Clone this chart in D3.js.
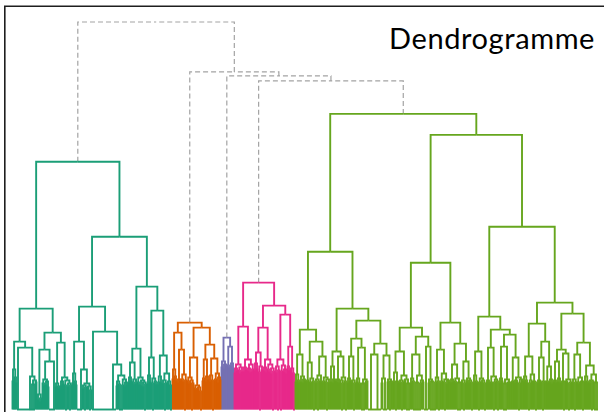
<!DOCTYPE html>
<html>
<head>
<meta charset="utf-8">
<script src="https://cdn.jsdelivr.net/npm/d3@7"></script>
<style>
  html, body { margin: 0; padding: 0; background: #ffffff; }
  svg { display: block; }
</style>
</head>
<body>
<svg id="chart" width="604" height="412"></svg>
<script>
// ---- data -------------------------------------------------------------
const title = "Dendrogramme";

// Colours of the five groups obtained by cutting the tree
const groupColors = ["#1b9e77", "#d95f02", "#7570b3", "#e7298a", "#66a61e"];

// Merges above the cut: "#k" stands for group k, the number after ")" is the merge height
const upperMerges = "(#0,(#1,(#2,(#3,#4)32.9)33.4)33.8)38.8";

// One tree per group. Leaf tokens give the number of tied observations
// (an L or R suffix: the stem of that tie chain sits at its left / right end).
const groupTrees = [
  // group 1
  `(
   ((((1,1)2.8,(1,(1,1)2.6)3.2)4.0,(12L,(2,((2,2)2.5,(1,1)2.7)2.9)3.3)6.2)6.8,
    ((((1,1)0.9,((1,1)0.7,1)1.1)1.5,(((1,(1,1)2.3)2.6,((1,1)2.4,(1,1)2.2)2.8)3.0,6R)4.8)6.0,
     (((1,1)2.2,(1,(1,1)2.0)2.3)2.6,(((1,1)2.3,(1,1)2.5)2.8,((1,2)2.4,((1,1)2.2,(2,1)2.4)2.6)2.9)3.2)6.7)7.7)10.1,
   (((((1,1)2.6,(1,(1,1)2.4)2.8)3.6,(5R,(((1,1)2.0,(2,1)2.2)2.4,((1,1)2.1,(2,1)1.9)2.3)2.6)4.0)6.8,
     (18L,(6,(((1,1)2.3,(1,2)2.5)2.8,((2,1)2.4,((1,1)2.2,(1,1)2.4)2.7)3.0)3.4)4.5)7.8)10.3,
    (((((1,1)2.6,(1,1)2.8)3.2,((1,(1,1)2.4)2.7,(1,1)2.5)3.0)4.7,((1,(1,1)2.4)2.7,((1,1)2.3,((1,1)2.2,(2,1)2.5)2.7)2.9)3.2)6.1,
     ((((1,1)2.5,(1,1)2.7)3.4,((1,2)2.6,(1,(1,1)2.4)2.8)3.1)5.2,((((1,1)2.4,1)2.7,(1,1)2.6)3.3,(((1,1)2.5,(2,1)2.6)2.9,((1,1)2.6,(1,2)2.4)2.8)3.6)5.4)9.9)12.3)17.3
  )24.8`,
  // group 2
  `(
   (((1,1)3.0,(1,(1,1)2.8)3.3)4.0,(((1,1)2.6,(1,1)2.8)3.0,((1,(1,1)2.7)3.0,(2,1)2.9)3.5)6.0)7.7,
   ((((1,(1,1)2.5)2.8,(1,(2,1)2.6)2.9)3.2,((1,(1,1)1.9)2.1,((1,1)2.0,(1,2)1.8)2.2)2.4)5.2,
    ((((1,1)2.8,1)3.1,((1,1)2.7,(1,1)2.9)3.3)5.0,(((1,1)2.7,(1,2)2.9)3.4,(((1,1)2.8,1)3.0,((1,1)2.6,(1,1)2.9)3.2)3.6)5.1)6.5)8.2
  )8.7`,
  // group 3
  `(((1,1)4.2,((1,1)4.0,(1,1)4.3)4.5)4.8,((1,(1,1)4.1)4.4,((1,1)4.3,(1,1)4.0)4.6)6.3)7.2`,
  // group 4
  `(
   ((((1,1)3.6,(1,1)3.8)4.1,((1,(1,1)3.5)3.9,(1,1)3.7)4.2)4.5,(((1,1)3.7,(1,1)3.9)4.2,(((1,1)3.8,(1,1)3.6)4.1,((1,1)3.7,1)4.0)4.5)5.0)8.3,
   (((((1,1)3.8,(1,1)4.0)4.6,((1,2)3.7,(1,1)3.9)4.3)5.7,(((1,1)3.8,(1,1)3.6)4.2,((1,(1,1)3.7)4.0,((1,1)3.5,(2,1)3.8)4.1)4.5)5.0)8.2,
    ((((1,1)3.6,(2,1)3.9)4.3,((2,1)3.8,((1,1)3.7,(1,1)3.5)4.0)4.4)5.0,((1,(1,1)3.8)4.3,((1,1)3.9,(1,2)3.6)4.1)6.3)9.5)10.4
  )12.7`,
  // group 5
  `(
   (
    ((((1,1)2.7,(1,(1,1)2.6)2.9)3.5,((1,1)2.7,((1,1)2.6,(1,1)2.8)3.0)3.3)5.5,
     ((((1,1)2.7,1)2.9,((1,(1,1)2.6)2.7,(1,2)2.8)3.1)4.7,((((1,1)2.6,(2,1)2.8)3.0,(1,1)2.7)3.4,(((1,1)2.6,1)2.8,((1,2)2.7,(1,1)2.6)3.0)3.2)5.3)6.8)8.0,
    ((((1,1)2.7,((1,1)2.6,(1,1)2.8)3.0)4.3,(((1,1)2.7,(1,1)2.6)3.0,((1,(2,1)2.6)2.9,(1,2)2.8)3.2)5.3)5.8,
     (((((1,1)2.6,(1,1)2.8)3.1,((1,1)2.7,(2,1)2.6)2.9)5.3,(((1,1)2.7,(1,(1,1)2.5)2.6)3.1,((2,2)2.6,((1,1)2.7,1)2.8)3.0)6.2)7.1,
      ((6,7)5.5,(((1,1)2.6,4)3.1,((1,1)2.7,(2,(1,1)2.6)2.8)3.0)5.4)6.6)8.9)10.1
   )15.8,
   (
    (
     ((((1,1)2.7,(2,(1,1)2.6)2.8)3.7,(((1,1)2.6,(2,1)2.7)2.9,((1,1)2.8,(2,2)2.6)3.0)3.4)5.8,
      ((((1,1)2.6,(1,2)2.8)3.1,((2,2)2.7,((2,1)2.6,(1,1)2.7)2.9)3.4)5.5,(4,((1,1)2.6,(2,2)2.8)3.0)6.3)7.3)8.2,
     ((((2,1)2.7,(1,2)2.8)3.2,(((1,1)2.6,1)2.8,((1,2)2.7,((1,1)2.5,(1,1)2.7)2.9)3.0)3.6)6.0,
      ((((1,1)2.6,(1,1)2.7)3.0,((1,(1,1)2.6)2.8,(2,2)2.7)3.1)4.5,(((1,1)2.7,(2,1)2.6)2.9,((1,1)2.8,((1,1)2.6,(1,2)2.7)2.9)3.1)4.8)6.6)8.7
    )14.7,
    (
     ((((1,1)2.6,(1,(1,1)2.6)2.8)3.4,((2,1)2.7,((1,1)2.7,(1,2)2.6)2.9)3.1)5.8,
      ((((1,1)2.7,(1,1)2.6)2.9,((1,(1,1)2.6)2.7,((2,1)2.7,(1,2)2.8)3.0)3.3)6.2,
       ((((1,1)2.6,(1,1)2.8)3.1,((2,2)2.6,((1,1)2.7,(1,1)2.5)2.7)3.0)6.3,(((1,1)2.7,1)2.8,(((1,1)2.6,(1,1)2.7)2.9,((2,1)2.6,(1,1)2.8)3.0)3.2)5.2)7.5)8.0)9.3,
     (((((1,1)2.7,(1,(1,1)2.6)2.9)3.3,(((2,1)2.6,1)2.9,((1,1)2.7,(1,2)2.7)2.8)3.5)5.3,
       ((((1,1)2.6,(1,1)2.8)2.9,((1,2)2.7,(1,1)2.6)2.8)5.2,((1,(1,1)2.6)2.8,((1,1)2.7,(1,1)2.5)3.0)4.3)6.8)8.6,
      (((((1,1)2.7,(1,1)2.6)2.9,((1,1)2.7,(1,1)2.6)3.1)4.8,(((1,1)2.6,2)2.8,((1,(1,1)2.7)2.8,((2,1)2.6,1)2.7)3.0)5.6)6.0,
       ((((1,1)2.6,(2,1)2.7)3.0,((1,(1,1)2.5)2.7,((1,1)2.7,2)2.8)3.2)5.5,(((1,1)2.7,(1,(1,1)2.6)2.8)3.3,(((1,1)2.6,(2,1)2.8)2.9,(2,2)2.7)3.5)4.4)6.7)9.6)10.7
    )18.3
   )27.5
  )29.6`
];

const maxHeight = 38.8;

// ---- parsing ------------------------------------------------------------
function parseTree(text, group) {
  const s = text.replace(/\s+/g, "");
  let i = 0;
  function num() {
    const m = /^[0-9]+(\.[0-9]+)?/.exec(s.slice(i));
    i += m[0].length;
    return +m[0];
  }
  function node() {
    if (s[i] === "(") {
      i++;
      const children = [node()];
      while (s[i] === ",") { i++; children.push(node()); }
      i++; // closing parenthesis
      return { height: num(), group, children };
    }
    if (s[i] === "#") {
      i++;
      const k = num();
      return parseTree(groupTrees[k], k);
    }
    const count = num();
    let side = "C";
    if (s[i] === "L" || s[i] === "R") side = s[i++];
    return { height: 0, group, count, side };
  }
  return node();
}

const root = d3.hierarchy(parseTree(upperMerges, undefined));

// ---- layout -------------------------------------------------------------
const leaves = root.leaves();
let cursor = 0;
leaves.forEach(l => { l.start = cursor; cursor += l.data.count; });
const totalCount = cursor;

const x = d3.scaleLinear().domain([0, totalCount]).range([12, 598]);
const y = d3.scaleLinear().domain([0, maxHeight]).range([409.5, 22]);

root.eachAfter(n => {
  if (n.children) {
    n.x = d3.mean(n.children, c => c.x);
  } else {
    const c = n.data.count;
    const edge = Math.min(1, c / 2);
    const off = n.data.side === "L" ? edge : n.data.side === "R" ? c - edge : c / 2;
    n.x = x(n.start + off);
  }
  n.y = y(n.data.height);
});

// ---- drawing ------------------------------------------------------------
const svg = d3.select("#chart");

// frame
svg.append("path")
  .attr("d", "M4.8,412V6.2H604")
  .attr("fill", "none")
  .attr("stroke", "#1e1e1e")
  .attr("stroke-width", 1.6);

const elbow = l => `M${l.target.x},${l.target.y}V${l.source.y}H${l.source.x}`;
const links = root.links();

// merges above the cut
svg.append("g")
  .selectAll("path")
  .data(links.filter(l => l.source.data.group === undefined))
  .join("path")
  .attr("d", elbow)
  .attr("fill", "none")
  .attr("stroke", "#a3a3a3")
  .attr("stroke-width", 1.2)
  .attr("stroke-dasharray", "5,3");

// merges inside each group
const inner = svg.append("g").attr("fill", "none").attr("stroke-width", 1.9);
inner.selectAll("path.tie")
  .data(leaves.filter(l => l.data.count > 1))
  .join("path")
  .attr("class", "tie")
  .attr("d", l => `M${x(l.start)},${y(0)}H${x(l.start + l.data.count)}`)
  .attr("stroke", l => groupColors[l.data.group]);
inner.selectAll("path.link")
  .data(links.filter(l => l.source.data.group !== undefined))
  .join("path")
  .attr("class", "link")
  .attr("d", elbow)
  .attr("stroke", l => groupColors[l.source.data.group]);

// title
svg.append("text")
  .attr("x", 595)
  .attr("y", 48.5)
  .attr("text-anchor", "end")
  .attr("font-family", "Lato, 'Open Sans', sans-serif")
  .attr("font-size", 29)
  .attr("letter-spacing", 0.6)
  .attr("fill", "#000")
  .text(title);
</script>
</body>
</html>
